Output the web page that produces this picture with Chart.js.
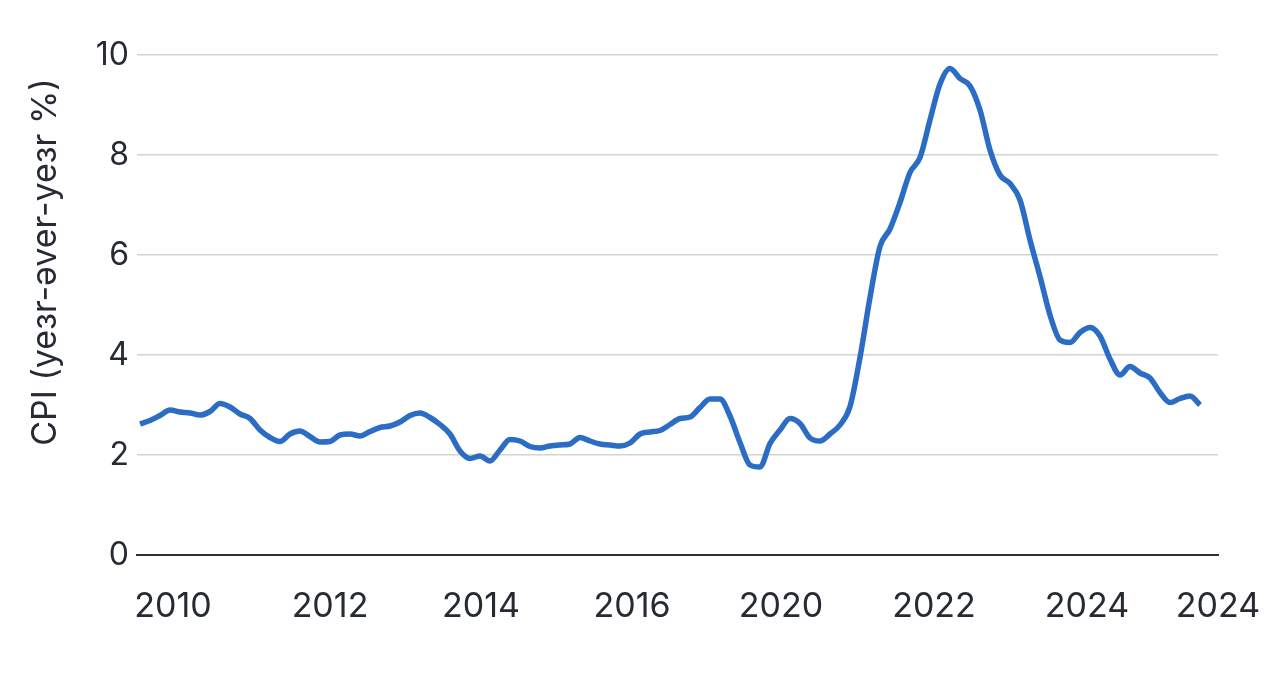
<!DOCTYPE html>
<html>
<head>
<meta charset="utf-8">
<script src="https://cdn.jsdelivr.net/npm/chart.js@4"></script>
<style>
  html, body { margin: 0; padding: 0; background: #fff; }
  #wrap { width: 1268px; height: 686px; }
</style>
</head>
<body>
<div id="wrap"><canvas id="cpi-chart"></canvas></div>
<script>
// CPI year-over-year, one reading per step along the series
const cpiValues = [
  2.62, 2.69, 2.79, 2.90, 2.86, 2.84, 2.80, 2.87, 3.03, 2.96,
  2.82, 2.73, 2.50, 2.35, 2.27, 2.42, 2.48, 2.37, 2.26, 2.27,
  2.40, 2.42, 2.38, 2.47, 2.55, 2.58, 2.66, 2.79, 2.84, 2.75,
  2.61, 2.42, 2.08, 1.93, 1.98, 1.88, 2.10, 2.31, 2.28, 2.17,
  2.14, 2.18, 2.20, 2.22, 2.35, 2.28, 2.22, 2.20, 2.18, 2.24,
  2.42, 2.46, 2.49, 2.61, 2.73, 2.76, 2.95, 3.12, 3.12, 2.78,
  2.25, 1.80, 1.76, 2.23, 2.50, 2.73, 2.63, 2.34, 2.28, 2.42,
  2.60, 2.97, 3.95, 5.15, 6.17, 6.52, 7.05, 7.65, 7.95, 8.70,
  9.42, 9.73, 9.53, 9.38, 8.90, 8.10, 7.60, 7.43, 7.10, 6.30,
  5.57, 4.80, 4.30, 4.25, 4.45, 4.55, 4.38, 3.92, 3.60, 3.77,
  3.64, 3.54, 3.25, 3.05, 3.13, 3.18, 3.00
];

// x-axis labels as printed, and where along the series each one sits
const tickLabels = ['2010', '2012', '2014', '2016', '2020', '2022', '2024', '2024'];
const tickSteps = [3.3, 19.0, 34.1, 49.2, 64.1, 79.4, 94.7, 107.8];

const yTicks = [0, 2, 4, 6, 8, 10];

const yTitle = 'CPI (yeзr-əver-yeзr %)';

const font = "Inter, 'Noto Sans', sans-serif";
const textColor = '#262b33';

// the axis title sits a bit above the middle of the plot, so draw it by hand
const yTitlePlugin = {
    id: 'yTitle',
    afterDraw(chart) {
        const ctx = chart.ctx;
        const area = chart.chartArea;
        ctx.save();
        ctx.translate(46, area.top + (area.bottom - area.top) * 0.414);
        ctx.rotate(-Math.PI / 2);
        ctx.fillStyle = textColor;
        ctx.font = `34px ${font}`;
        ctx.textAlign = 'center';
        ctx.textBaseline = 'middle';
        ctx.fillText(yTitle, 0, 0);
        ctx.restore();
    },
};

function init() {
    const points = cpiValues.map((v, i) => ({ x: i, y: v }));

    new Chart(document.getElementById('cpi-chart').getContext('2d'), {
        type: 'line',
        data: {
            datasets: [{
                data: points,
                borderColor: '#2b6cc4',
                borderWidth: 5.5,
                pointRadius: 0,
                cubicInterpolationMode: 'monotone',
                fill: false,
            }],
        },
        plugins: [yTitlePlugin],
        options: {
            responsive: true,
            maintainAspectRatio: false,
            animation: false,
            layout: { padding: { top: 55, right: 50, bottom: 0, left: 0 } },
            plugins: {
                legend: { display: false },
                tooltip: { enabled: false },
            },
            scales: {
                x: {
                    type: 'linear',
                    min: -0.3,
                    max: 107.8,
                    afterBuildTicks: (scale) => {
                        scale.ticks = tickSteps.map((v) => ({ value: v }));
                    },
                    afterFit: (scale) => {
                        scale.height = 131;
                        // last label hangs past the plot, as in the original
                        scale.paddingLeft = 0;
                        scale.paddingRight = 0;
                    },
                    grid: { display: false, drawTicks: false },
                    border: { display: true, color: '#2d2f33', width: 2 },
                    ticks: {
                        autoSkip: false,
                        maxRotation: 0,
                        padding: 31,
                        color: textColor,
                        font: { family: font, size: 34 },
                        callback: (value, index) => tickLabels[index],
                    },
                },
                y: {
                    min: 0,
                    max: 10,
                    afterBuildTicks: (scale) => {
                        scale.ticks = yTicks.map((v) => ({ value: v }));
                    },
                    afterFit: (scale) => {
                        scale.width = 137;
                        scale.paddingTop = 0;
                        scale.paddingBottom = 0;
                    },
                    grid: { color: '#d3d3d3', lineWidth: 1.5, drawTicks: false },
                    border: { display: false },
                    ticks: {
                        padding: 8,
                        color: textColor,
                        font: { family: font, size: 32 },
                    },
                },
            },
        },
    });
}

document.addEventListener('DOMContentLoaded', init);
</script>
</body>
</html>
